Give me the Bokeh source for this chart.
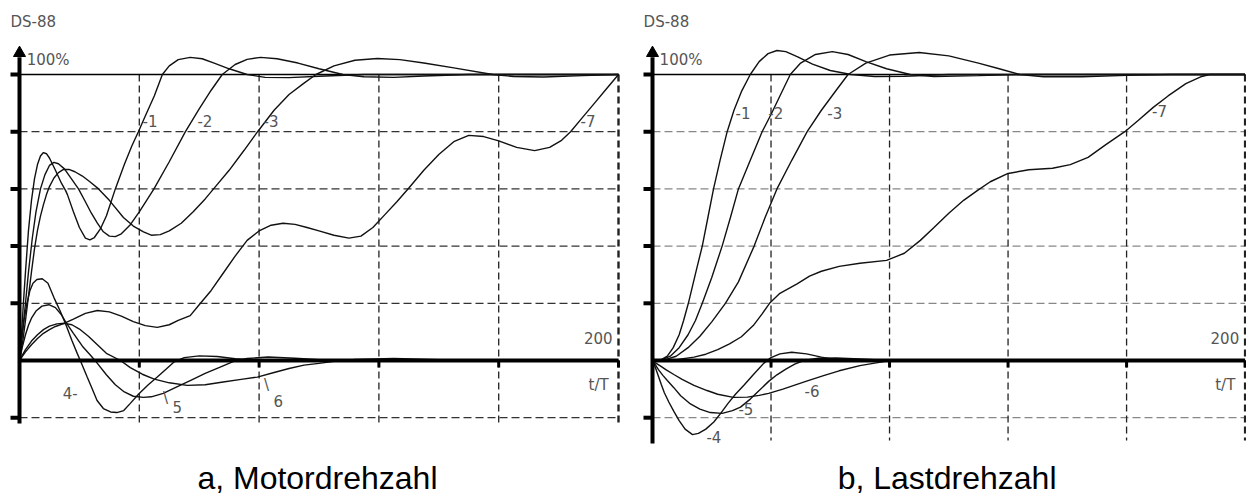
from bokeh.plotting import figure
from bokeh.models import Range1d
from bokeh.core.properties import value
from bokeh.embed import file_html
from bokeh.resources import INLINE

# ---------------- data (t/T in 0..200, speed in % ) ----------------
V_GRID = [40, 80, 120, 160, 200]
H_GRID = [-20, 20, 40, 60, 80]
Y_TICKS = [-20, 20, 40, 60, 80, 100]
T_MAX = 200

# a) Motordrehzahl
A1_T = [0, 0.6, 1.3, 2, 3, 4, 5, 6, 7, 8, 9, 10, 12, 14, 15.4, 16, 18, 20, 22, 23.5, 25, 27, 29, 32, 35, 37.5, 39.7, 42, 45, 47.7, 50, 53, 57, 61, 65, 70, 76, 82, 90, 100, 115, 200]
A1_Y = [0, 8, 20, 31, 45.5, 56, 63.5, 68.5, 71.5, 72.7, 72.3, 70.8, 66.5, 62, 59.4, 58, 52, 46.5, 42.8, 42.2, 43, 46, 50.5, 60, 68.5, 75, 80, 85.5, 92.5, 100, 103, 105.2, 106, 105.5, 104, 102, 100, 99, 98.9, 99.4, 100, 100]
A2_T = [0, 0.8, 2, 3, 4.3, 5.5, 7, 8.5, 10, 11.5, 13, 15, 17, 19.7, 22, 24, 26, 28, 30, 32, 34, 37, 40, 44.9, 50, 55.4, 60, 64, 67.7, 72, 76, 80.5, 86, 93, 100, 108, 115, 125, 135, 150, 200]
A2_Y = [0, 8, 20, 31, 43, 52, 60, 65, 68.2, 69.3, 68.8, 67, 64, 60, 55.5, 51.5, 48, 45, 43.5, 43.3, 44.3, 47.5, 52, 60, 69.5, 80, 88, 94.5, 100, 103.5, 105.3, 106, 105.5, 104, 102, 100, 99.2, 99, 99.5, 100, 100]
A3_T = [0, 1, 2, 2.7, 4, 5, 6, 7, 8, 9, 10, 11.5, 13, 14.7, 16.5, 18.5, 21, 23.5, 26.4, 30, 34.7, 38, 41.4, 44, 47, 50, 54, 58, 62, 64.8, 70, 75, 79.5, 85, 90, 95, 99, 105, 112, 119.5, 127, 135, 145, 158, 165, 175, 188, 200]
A3_Y = [0, 6, 14, 20, 31, 39, 45.5, 50.5, 54.5, 58, 60.8, 63.8, 65.7, 66.8, 66.8, 66, 64.5, 62.5, 60, 56, 50, 47, 45, 43.8, 44, 45.3, 48, 52, 56.5, 60, 66.5, 73.5, 80, 87.5, 93, 97, 100, 103, 105, 105.6, 105.2, 104, 102.3, 100, 99.3, 99.1, 99.6, 100]
A4_T = [0, 0.7, 1.5, 2.5, 3.5, 4.5, 5.8, 7.6, 9.5, 11.5, 13.5, 15.4, 17.5, 19.3, 20.3, 22.6, 24.3, 25.9, 28, 30.4, 32.5, 34.8, 37, 39.8, 43, 46, 49, 51.5, 55, 60, 66, 72, 80, 200]
A4_Y = [0, 7, 14, 20, 24.5, 27, 28.3, 28.6, 27, 22, 17.5, 12.8, 7, 2.4, 0, -5.8, -10, -14, -16.8, -18, -18.2, -17.5, -15, -11.7, -8.5, -5.8, -3, -0.6, 1, 1.6, 1.4, 0.6, 0, 0]
A5_T = [0, 1, 2, 3, 4, 5.5, 7.5, 9.8, 12, 14, 15.4, 18, 21, 24, 26, 29, 32, 35, 38, 41.4, 44, 48, 52, 57, 62, 67, 71.5, 76, 83, 92, 100, 110, 200]
A5_Y = [0, 5, 9, 12.3, 14.8, 17.3, 19, 19.5, 18.5, 16, 13.5, 9.5, 5, 1.5, -1, -5, -8.5, -11, -12.5, -12.9, -12.7, -11.5, -9.5, -7, -4.5, -2.3, -0.3, 0.7, 1.2, 0.8, 0.3, 0, 0]
A6_T = [0, 1, 2, 4, 6, 8, 10, 12.5, 15, 17.5, 20, 23, 26, 29, 33.7, 37, 41, 45, 50, 56, 62, 68, 74, 79.4, 85, 90, 95, 100, 105, 112, 125, 140, 150, 200]
A6_Y = [0, 2, 3.8, 6.8, 9, 10.8, 12, 12.8, 13, 12.5, 11, 8.5, 5.5, 2.5, 0, -2.5, -4.8, -6.5, -7.8, -8.7, -8.5, -7.5, -6.6, -5.8, -4.2, -2.8, -1.6, -1, -0.3, 0.4, 0.7, 0.3, 0, 0]
A7_T = [0, 1, 2, 4, 6, 8, 10, 12, 14.7, 18, 22, 26, 30, 34, 38, 42, 46, 50, 53, 57, 60, 64, 68, 72, 76, 80, 84, 88, 92, 96, 100, 105, 110, 114, 118, 122, 126, 130, 135, 140, 145, 150, 155, 160, 166, 172, 177, 181, 184, 188, 192, 196, 200]
A7_Y = [0, 1.5, 3, 5.5, 7.7, 9.5, 10.8, 11.9, 12.9, 14.5, 16.5, 17.5, 17, 15.5, 13.6, 12.2, 11.6, 12.5, 14, 15.7, 19.5, 24.5, 30.5, 36.5, 42, 45.3, 47.3, 48, 47.6, 46.5, 45.3, 43.8, 42.8, 43.5, 46.5, 51, 55.5, 60.3, 66.5, 72, 76.5, 78.7, 78.3, 76.8, 74.5, 73.4, 74.5, 77, 80, 85, 90, 95, 100]

# b) Lastdrehzahl
B1_T = [0, 3, 5, 7, 9, 10.5, 12.1, 13.5, 15, 16.8, 18.7, 20.6, 22.8, 25.2, 27.5, 30, 33, 36, 39, 42, 45, 49, 54, 60, 67, 75, 85, 100, 200]
B1_Y = [0, 0.3, 1.5, 4.5, 9, 14, 20, 26, 32.5, 40, 50, 60, 70, 80, 87.5, 94, 100, 104.5, 107.3, 108.4, 108, 106.2, 103.6, 101.4, 100, 99.3, 99.4, 100, 100]
B2_T = [0, 3, 6, 9, 12, 14.5, 16.8, 20, 23.5, 26.3, 29, 33, 37, 40, 43, 46.5, 50, 55, 60.7, 66, 72, 79, 87, 95, 110, 125, 200]
B2_Y = [0, 0.2, 1.5, 4.5, 9, 14, 20, 29, 40, 50, 60, 70, 80, 86, 92.5, 100, 104, 107, 108, 107, 104.5, 102, 100, 99.3, 99.6, 100, 100]
B3_T = [0, 4, 8, 12, 16, 20, 24.6, 29, 34.3, 38, 42, 47, 52.2, 57, 62, 66, 72, 80, 90, 100, 110, 117, 124, 132, 145, 160, 175, 200]
B3_Y = [0, 0.2, 1.5, 4.5, 8.5, 13.5, 20, 27.5, 40, 50, 60, 70, 80, 87.5, 94.5, 100, 104, 106.8, 107.7, 106.5, 104, 102, 100, 99.2, 99.2, 99.7, 100, 100]
B4_T = [0, 1, 2, 3, 4, 5.5, 7.2, 9, 11, 13.5, 15.5, 18, 20.7, 23, 25.5, 28, 31, 34, 37.5, 40, 43, 47, 52, 57, 62, 70, 80, 200]
B4_Y = [0, -2.5, -5.5, -8.5, -11.3, -14.5, -17.8, -21, -24, -25.9, -25.5, -24, -21.5, -18.5, -15, -11.8, -8.5, -5, -1, 1, 2.3, 2.9, 2.3, 1.2, 0.3, -0.3, 0, 0]
B5_T = [0, 1, 2, 3.5, 5, 7.2, 9.5, 12.8, 16, 19.5, 23.5, 27, 29.7, 33, 36, 39.2, 42, 45, 48, 51, 56, 62, 70, 80, 200]
B5_Y = [0, -1.5, -3.2, -5.2, -7, -9.5, -12.3, -15.2, -17, -18.2, -18.5, -17.5, -16.3, -13.5, -10.5, -7.3, -5, -3, -1.3, 0, 0.8, 0.9, 0.5, 0, 0]
B6_T = [0, 1, 2.5, 4.5, 7.2, 10, 14, 18.4, 22, 27.3, 32, 36, 39.2, 44, 48, 52, 58, 63, 70, 79, 90, 100, 200]
B6_Y = [0, -0.8, -1.8, -3.2, -4.9, -6.6, -8.7, -10.5, -11.8, -12.9, -12.8, -12.2, -11.5, -10, -8.6, -7.2, -5.2, -3.6, -1.8, -0.2, 0.3, 0, 0]
B7_T = [0, 8, 14, 18, 22, 26, 30, 34, 37, 39.5, 43, 48.8, 53, 57, 63, 70, 79, 85, 90.4, 95, 100, 105, 109.6, 114, 120, 127, 135, 141, 147, 153, 159.4, 164, 169, 174, 180, 185, 188, 200]
B7_Y = [0, 0.3, 1.2, 2.2, 3.8, 5.8, 8.3, 12.2, 16.3, 20, 23.5, 26.8, 29.5, 31.2, 32.9, 34, 35, 37.5, 42, 46.5, 51.5, 56, 59.4, 62.5, 65.4, 66.7, 67.2, 68.5, 71, 75.5, 80, 84, 88.5, 92.5, 96.8, 99.2, 100, 100]

# curve labels (text, t, y)
A_LAB_TXT = ["-1", "-2", "-3", "-7", "4-", "\\", "5", "\\", "6"]
A_LAB_T = [41.1, 59.4, 81.5, 187.3, 14.4, 47.9, 51.1, 81.6, 84.8]
A_LAB_Y = [83.6, 83.6, 83.6, 83.9, -11.5, -13.0, -16.4, -8.6, -14.3]
B_LAB_TXT = ["-1", "-2", "-3", "-7", "-4", "-5", "-6"]
B_LAB_T = [28.0, 39.1, 59.0, 168.6, 18.2, 29.0, 51.3]
B_LAB_Y = [86.4, 86.4, 86.4, 87.4, -26.6, -17.1, -10.8]

CAPTION_A = "a, Motordrehzahl"
CAPTION_B = "b, Lastdrehzahl"

# ---------------- layout constants ----------------
W, H = 1246, 497
PX_A, X0_A = 2.995, 19      # px per t-unit, axis x inside canvas (left panel)
PX_B, X0_B = 2.963, 652     # right panel
PX_Y, Y0 = 2.86, 360        # px per %, zero-line y from canvas top

p = figure(width=W, height=H, output_backend="svg", toolbar_location=None,
           x_range=Range1d(-X0_A / PX_A, (W - X0_A) / PX_A),
           y_range=Range1d(-(H - Y0) / PX_Y, Y0 / PX_Y),
           min_border=0, outline_line_color=None)
p.extra_x_ranges = {"b": Range1d(-X0_B / PX_B, (W - X0_B) / PX_B)}
p.xaxis.visible = False
p.yaxis.visible = False
p.xgrid.visible = False
p.ygrid.visible = False
p.background_fill_color = "white"
p.border_fill_color = "white"

SMALL = dict(text_font=value("DejaVu Sans"), text_font_size="15px", text_color="#555555")
CURVE = dict(line_color="#111111", line_width=1.4)


def panel(rng, pxs, curves, lab_txt, lab_t, lab_y, hgrid_color, ybot_grid, ybot_axis, caption, cap_t):
    kw = {"x_range_name": rng}
    n = len(H_GRID)
    p.segment(x0=[0] * n, y0=H_GRID, x1=[T_MAX] * n, y1=H_GRID, line_color=hgrid_color,
              line_width=1.3, line_dash="8 4", **kw)
    m = len(V_GRID)
    p.segment(x0=V_GRID, y0=[100] * m, x1=V_GRID, y1=[ybot_grid] * m, line_color="#222222",
              line_width=[1.3] * (m - 1) + [2.4], line_dash="7 4", **kw)
    # 100 % reference line
    p.segment(x0=[0], y0=[100], x1=[T_MAX], y1=[100], line_color="black", line_width=1.5, **kw)
    # curves
    for t, y in curves:
        p.line(t, y, **CURVE, **kw)
    # zero axis with ticks
    p.segment(x0=[0], y0=[0], x1=[T_MAX], y1=[0], line_color="black", line_width=4, **kw)
    p.segment(x0=V_GRID, y0=[0] * m, x1=V_GRID, y1=[-7 / PX_Y] * m, line_color="black",
              line_width=3, **kw)
    # y axis with ticks and arrow
    p.segment(x0=[0], y0=[ybot_axis], x1=[0], y1=[106], line_color="black", line_width=4, **kw)
    k = len(Y_TICKS)
    p.segment(x0=[-9 / pxs] * k, y0=Y_TICKS, x1=[0] * k, y1=Y_TICKS, line_color="black",
              line_width=4, **kw)
    p.scatter(x=[0], y=[107.5], marker="triangle", size=12, color="black", **kw)
    # texts
    p.text(x=[-3.0], y=[118.5], text=["DS-88"], text_baseline="middle", **SMALL, **kw)
    p.text(x=[2.4], y=[104.9], text=["100%"], text_baseline="middle", **SMALL, **kw)
    p.text(x=[T_MAX - 2.0], y=[8.0], text=["200"], text_align="right", text_baseline="middle", **SMALL, **kw)
    p.text(x=[T_MAX - 3.3], y=[-8.7], text=["t/T"], text_align="right", text_baseline="middle", **SMALL, **kw)
    p.text(x=lab_t, y=lab_y, text=lab_txt, text_baseline="middle", **SMALL, **kw)
    p.text(x=[cap_t], y=[-47.5], text=[caption], text_baseline="bottom",
           text_font=value("Liberation Sans"), text_font_size="32px", text_color="black", **kw)


panel("default", PX_A,
      [(A1_T, A1_Y), (A2_T, A2_Y), (A3_T, A3_Y), (A4_T, A4_Y), (A5_T, A5_Y), (A6_T, A6_Y), (A7_T, A7_Y)],
      A_LAB_TXT, A_LAB_T, A_LAB_Y, "#333333", -22, -22, CAPTION_A, 59.4)
panel("b", PX_B,
      [(B1_T, B1_Y), (B2_T, B2_Y), (B3_T, B3_Y), (B4_T, B4_Y), (B5_T, B5_Y), (B6_T, B6_Y), (B7_T, B7_Y)],
      B_LAB_TXT, B_LAB_T, B_LAB_Y, "#888888", -28, -29, CAPTION_B, 62.5)

open("out.html", "w").write(file_html(p, INLINE))
